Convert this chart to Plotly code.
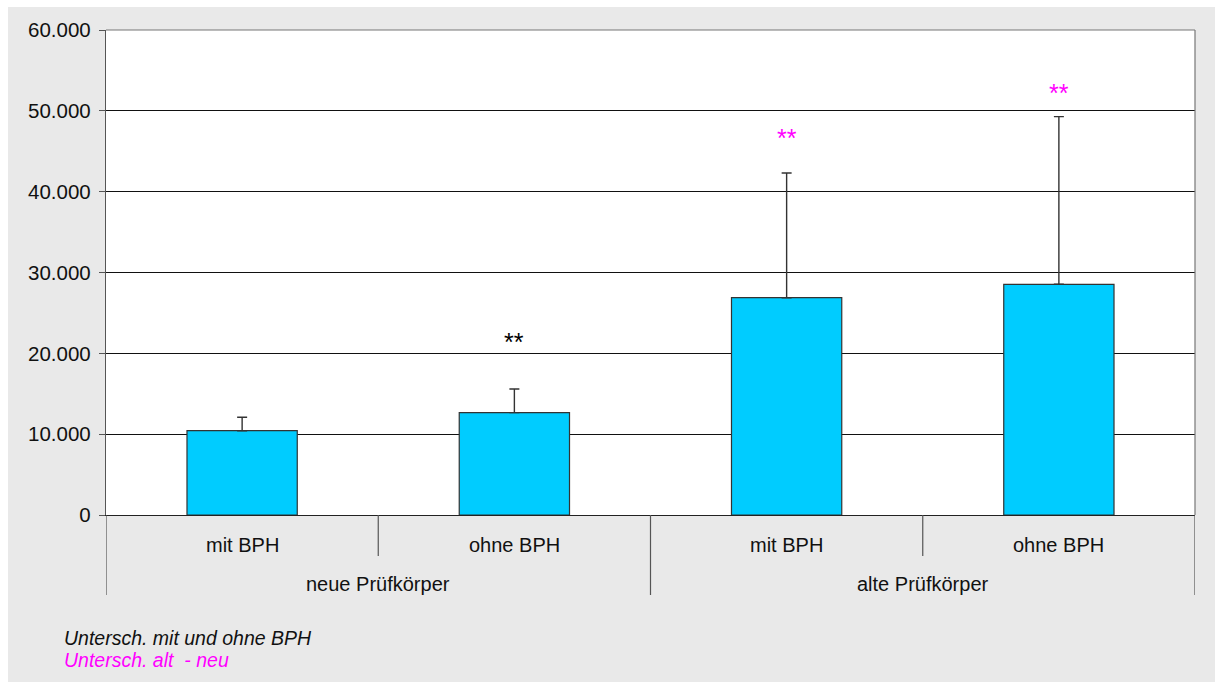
import plotly.graph_objects as go

# Mittelwerte und Standardabweichungen (nach oben) je Prüfgruppe
categories = ["mit BPH", "ohne BPH", "mit BPH", "ohne BPH"]
groups = ["neue Prüfkörper", "alte Prüfkörper"]
means = [10430, 12660, 26880, 28540]
sd_up = [1660, 2930, 15430, 20740]
y_ticks = [0, 10000, 20000, 30000, 40000, 50000, 60000]

# Signifikanzmarkierungen: (x-Position, y-Position, Farbe)
sig_marks = [(1, 22000, "black"), (2, 47300, "#ff00ff"), (3, 52800, "#ff00ff")]

FONT = "Liberation Sans, Arial, sans-serif"
x_pos = list(range(len(categories)))

fig = go.Figure()
fig.add_trace(go.Bar(
    x=x_pos,
    y=means,
    width=0.405,
    marker=dict(color="#00ccff", line=dict(color="#333333", width=1.2)),
    error_y=dict(type="data", symmetric=False, array=sd_up,
                 arrayminus=[0] * len(means), color="#333333",
                 thickness=1.4, width=5),
    hoverinfo="skip",
))

shapes = [
    # white margin strips at the top-left edge of the page
    dict(type="rect", xref="paper", yref="paper", layer="below",
         x0=-106 / 1089, x1=-98 / 1089, y0=-167 / 485, y1=1 + 30 / 485,
         fillcolor="white", line=dict(width=0)),
    dict(type="rect", xref="paper", yref="paper", layer="below",
         x0=-106 / 1089, x1=1 + 20 / 1089, y0=1 + 23 / 485, y1=1 + 30 / 485,
         fillcolor="white", line=dict(width=0)),
    # plot frame (top and right)
    dict(type="line", xref="paper", yref="paper", x0=0, x1=1, y0=1, y1=1,
         line=dict(color="#777777", width=1.2)),
    dict(type="line", xref="paper", yref="paper", x0=1, x1=1, y0=0, y1=1,
         line=dict(color="#777777", width=1.2)),
]

# category separators below the axis
for xb in [0.5, 2.5]:
    shapes.append(dict(type="line", xref="x", yref="paper", x0=xb, x1=xb,
                       y0=0, y1=-41 / 485, line=dict(color="#555555", width=1.2)))
for xb in [-0.5, 1.5, 3.5]:
    shapes.append(dict(type="line", xref="x", yref="paper", x0=xb, x1=xb,
                       y0=0, y1=-80 / 485, line=dict(color="#555555", width=1.2)))

annotations = []
for xi, lab in zip(x_pos, categories):
    annotations.append(dict(x=xi, y=-30 / 485, xref="x", yref="paper",
                            text=lab, showarrow=False, yanchor="middle",
                            font=dict(family=FONT, size=20, color="#111111")))
for gi, g in enumerate(groups):
    annotations.append(dict(x=0.5 + 2 * gi, y=-69 / 485, xref="x", yref="paper",
                            text=g, showarrow=False, yanchor="middle",
                            font=dict(family=FONT, size=20, color="#111111")))
for xs, ys, col in sig_marks:
    annotations.append(dict(x=xs, y=ys, xref="x", yref="y", text="**",
                            showarrow=False, yanchor="middle", yshift=-5,
                            font=dict(family=FONT, size=25, color=col)))

annotations.append(dict(x=-44 / 1089, y=-123 / 485, xref="paper", yref="paper",
                        text="<i>Untersch. mit und ohne BPH</i>", showarrow=False,
                        xanchor="left", yanchor="middle",
                        font=dict(family=FONT, size=19.5, color="#111111")))
annotations.append(dict(x=-44 / 1089, y=-145 / 485, xref="paper", yref="paper",
                        text="<i>Untersch. alt  - neu</i>", showarrow=False,
                        xanchor="left", yanchor="middle",
                        font=dict(family=FONT, size=19.5, color="#ff00ff")))

fig.update_layout(
    width=1215, height=682,
    margin=dict(l=106, r=20, t=30, b=167),
    paper_bgcolor="#e9e9e9",
    plot_bgcolor="white",
    separators=",.",
    showlegend=False,
    bargap=0.6,
    shapes=shapes,
    annotations=annotations,
    xaxis=dict(range=[-0.5, 3.5], showticklabels=False, showgrid=False,
               zeroline=False, showline=True, linecolor="#222222", linewidth=1.4,
               ticks="", fixedrange=True),
    yaxis=dict(range=[0, 60000], tickvals=y_ticks, tickformat=",d",
               showgrid=True, gridcolor="#111111", gridwidth=1,
               zeroline=False, showline=True, linecolor="#555555", linewidth=1.4,
               ticks="outside", ticklen=6, tickcolor="#555555",
               ticklabelstandoff=4,
               tickfont=dict(family=FONT, size=20.5, color="#111111"),
               fixedrange=True),
)

fig.write_html("out.html")
